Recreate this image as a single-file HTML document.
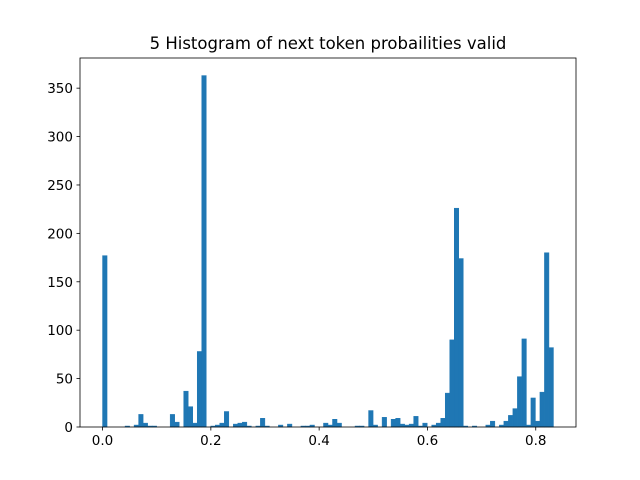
<!DOCTYPE html>
<html><head><meta charset="utf-8"><style>body{margin:0;background:#fff}svg{display:block;font-family:"DejaVu Sans","Liberation Sans",sans-serif}</style></head>
<body>
<svg id="chart" width="640" height="480" viewBox="0 0 640 480">
<text x="328" y="49" text-anchor="middle" font-size="16.5" fill="#000">5 Histogram of next token probailities valid</text>
<g id="bars"></g>
<g id="axes"></g>
</svg>
<script>
const binStart = 0.0;
const binWidth = 0.008327;
const counts = [177,0,0,0,0,1,0,2,13,4,1,1,0,0,0,13,5,0,37,21,4,78,363,0,1,2,4,16,0,3,4,5,1,0,1,9,1,0,0,2,0,3,0,0,1,1,2,0,0,4,2,8,4,0,0,0,1,1,0,17,2,0,10,0,8,9,3,2,3,11,1,4,0,2,4,9,35,90,226,174,1,0,1,0,0,2,6,0,2,6,12,19,52,91,2,30,6,36,180,82];
const xTicks = [0.0,0.2,0.4,0.6,0.8];
const yTicks = [0,50,100,150,200,250,300,350];
const L=80,R=576,T=58,B=427;
const xMin=-0.04164,xMax=0.87434,yMax=381.15;
const sx=v=>L+(v-xMin)/(xMax-xMin)*(R-L);
const sy=v=>B-v/yMax*(B-T);
const NS="http://www.w3.org/2000/svg";
const bars=document.getElementById('bars');
counts.forEach((c,i)=>{
  if(c<=0)return;
  const r=document.createElementNS(NS,'rect');
  const x0=sx(binStart+i*binWidth),x1=sx(binStart+(i+1)*binWidth);
  r.setAttribute('x',x0);r.setAttribute('width',x1-x0);
  r.setAttribute('y',sy(c));r.setAttribute('height',B-sy(c));
  r.setAttribute('fill','#1f77b4');r.setAttribute('stroke','#1f77b4');r.setAttribute('stroke-width','0.5');
  
  
  bars.appendChild(r);
});
const ax=document.getElementById('axes');
const frame=document.createElementNS(NS,'rect');
frame.setAttribute('x',L);frame.setAttribute('y',T);frame.setAttribute('width',R-L);frame.setAttribute('height',B-T);
frame.setAttribute('fill','none');frame.setAttribute('stroke','#000');frame.setAttribute('stroke-width','0.8');


ax.appendChild(frame);
xTicks.forEach(t=>{
  const x=sx(t);
  const l=document.createElementNS(NS,'line');
  l.setAttribute('x1',x);l.setAttribute('x2',x);l.setAttribute('y1',B);l.setAttribute('y2',B+3.5);l.setAttribute('stroke','#000');l.setAttribute('stroke-width','0.8');
  
  
  ax.appendChild(l);
  const tx=document.createElementNS(NS,'text');
  tx.setAttribute('x',x);tx.setAttribute('y',B+18);tx.setAttribute('text-anchor','middle');tx.setAttribute('font-size','13.5');
  tx.textContent=t.toFixed(1);
  
  
  ax.appendChild(tx);
});
yTicks.forEach(t=>{
  const y=sy(t);
  const l=document.createElementNS(NS,'line');
  l.setAttribute('x1',L-3.5);l.setAttribute('x2',L);l.setAttribute('y1',y);l.setAttribute('y2',y);l.setAttribute('stroke','#000');l.setAttribute('stroke-width','0.8');
  
  
  ax.appendChild(l);
  const tx=document.createElementNS(NS,'text');
  tx.setAttribute('x',L-7);tx.setAttribute('y',y+5);tx.setAttribute('text-anchor','end');tx.setAttribute('font-size','13.5');
  tx.textContent=t;
  
  
  ax.appendChild(tx);
});
</script>
</body></html>
